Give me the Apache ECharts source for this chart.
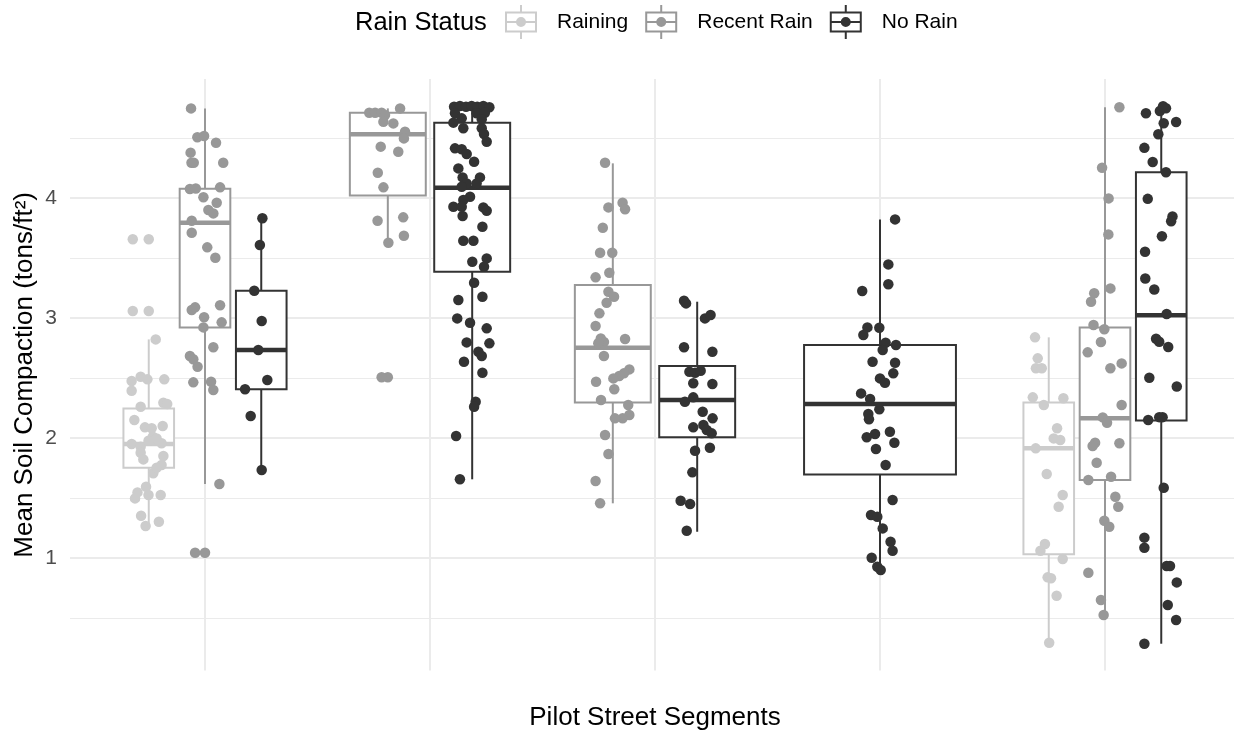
<!DOCTYPE html>
<html><head><meta charset="utf-8">
<script src="https://cdn.jsdelivr.net/npm/echarts@6/dist/echarts.min.js"></script>
<style>html,body{margin:0;padding:0;background:#fff}#chart{width:1234px;height:734px}</style>
</head><body><div id="chart"></div>
<script>
// ---------- data ----------
const segmentPositions = [1, 2, 3, 4, 5];
const statuses = ['Raining', 'Recent Rain', 'No Rain'];
const yTickValues = [1, 2, 3, 4];
const yMinorValues = [0.5, 1.5, 2.5, 3.5, 4.5];

// box stats per segment: [lower whisker, Q1, median, Q3, upper whisker]
const rainingBox = [[1.267, 1.753, 1.950, 2.247, 2.822], null, null, null, [0.294, 1.031, 1.914, 2.297, 2.839]];
const recentBox = [[1.617, 2.922, 3.794, 4.078, 4.747], [3.622, 4.022, 4.531, 4.711, 4.747], [1.456, 2.297, 2.753, 3.275, 4.289], null, [0.525, 1.650, 2.164, 2.922, 4.756]];
const noRainBox = [[1.733, 2.406, 2.733, 3.228, 3.831], [1.656, 3.386, 4.086, 4.628, 4.767], [1.219, 2.006, 2.317, 2.600, 3.136], [0.900, 1.697, 2.283, 2.775, 3.822], [0.286, 2.147, 3.024, 4.215, 4.748]];

// boxplot outliers per segment
const rainingOut = [[3.656, 3.058], [], [], [], []];
const recentOut = [[1.044], [2.506], [], [], []];
const noRainOut = [[], [], [], [], []];

// jittered observations: [x position on segment axis, mean compaction]
const rainingPts = [
 [0.679,3.656],[0.679,3.058],[0.781,2.822],[0.674,2.475],[0.714,2.511],[0.744,2.489],[0.819,2.489],[0.674,2.394],
 [0.714,2.261],[0.815,2.294],[0.832,2.283],[0.686,2.150],[0.733,2.089],[0.763,2.081],[0.812,2.100],[0.768,2.011],
 [0.674,1.950],[0.714,1.928],[0.749,1.978],[0.785,1.997],[0.807,1.956],[0.714,1.878],[0.726,1.822],[0.815,1.850],
 [0.807,1.775],[0.770,1.706],[0.785,1.753],[0.738,1.594],[0.700,1.547],[0.689,1.497],[0.749,1.525],[0.803,1.525],
 [0.716,1.353],[0.736,1.267],[0.795,1.303],
 [4.689,2.839],[4.701,2.664],[4.693,2.581],[4.719,2.581],[4.679,2.339],[4.728,2.275],[4.815,2.331],[4.787,2.081],
 [4.772,1.997],[4.801,1.983],[4.692,1.914],[4.741,1.700],[4.812,1.525],[4.794,1.428],[4.733,1.117],[4.713,1.061],
 [4.812,0.992],[4.745,0.839],[4.760,0.831],[4.785,0.686],[4.752,0.294]
];
const recentPts = [
 [0.938,4.747],[0.966,4.506],[0.996,4.517],[1.049,4.461],[0.936,4.378],[0.940,4.294],[0.950,4.294],[1.081,4.294],
 [0.933,4.075],[0.959,4.080],[1.067,4.089],[0.993,4.006],[1.052,3.961],[1.015,3.900],[1.037,3.872],[0.941,3.811],
 [0.941,3.711],[1.010,3.589],[1.046,3.503],[0.941,3.067],[0.956,3.089],[1.067,3.106],[0.996,3.006],[1.074,2.964],
 [0.993,2.922],[1.037,2.756],[0.933,2.683],[0.948,2.656],[0.967,2.594],[0.948,2.464],[1.027,2.469],[1.037,2.400],
 [1.064,1.617],[0.956,1.044],
 [1.730,4.711],[1.756,4.711],[1.785,4.711],[1.800,4.692],[1.867,4.747],[1.793,4.636],[1.837,4.622],[1.889,4.553],
 [1.884,4.497],[1.781,4.428],[1.859,4.386],[1.768,4.211],[1.793,4.089],[1.767,3.811],[1.881,3.839],[1.884,3.686],
 [1.815,3.628],[1.785,2.506],
 [2.778,4.294],[2.856,3.961],[2.867,3.906],[2.793,3.922],[2.768,3.753],[2.756,3.544],[2.810,3.544],[2.797,3.378],
 [2.736,3.339],[2.793,3.219],[2.818,3.178],[2.785,3.128],[2.753,3.039],[2.736,2.933],[2.759,2.830],[2.773,2.800],
 [2.748,2.790],[2.867,2.825],[2.773,2.683],[2.886,2.572],[2.862,2.539],[2.841,2.517],[2.815,2.497],[2.738,2.469],
 [2.819,2.406],[2.760,2.317],[2.881,2.275],[2.886,2.192],[2.856,2.164],[2.822,2.164],[2.778,2.025],[2.793,1.867],
 [2.736,1.642],[2.756,1.456],
 [5.064,4.756],[4.987,4.253],[5.016,3.997],[5.015,3.697],[5.024,3.247],[4.952,3.206],[4.938,3.136],[4.949,2.942],
 [4.997,2.906],[4.982,2.800],[4.923,2.714],[5.074,2.622],[5.024,2.581],[5.074,2.275],[4.990,2.172],[5.009,2.128],
 [4.956,1.961],[4.945,1.933],[5.064,1.956],[4.963,1.794],[4.926,1.650],[5.027,1.678],[5.046,1.511],[5.059,1.428],
 [4.997,1.311],[5.019,1.261],[4.926,0.878],[4.982,0.650],[4.994,0.525]
];
const noRainPts = [
 [1.255,3.831],[1.244,3.608],[1.219,3.228],[1.252,2.975],[1.237,2.733],[1.277,2.483],[1.178,2.406],[1.203,2.183],[1.252,1.733],
 [2.107,4.761],[2.133,4.767],[2.160,4.761],[2.185,4.767],[2.210,4.761],[2.237,4.767],[2.264,4.756],[2.111,4.706],
 [2.207,4.706],[2.244,4.711],[2.141,4.664],[2.230,4.656],[2.104,4.628],[2.148,4.581],[2.230,4.581],[2.240,4.533],
 [2.252,4.469],[2.111,4.414],[2.141,4.406],[2.163,4.367],[2.196,4.303],[2.126,4.247],[2.145,4.172],[2.222,4.172],
 [2.163,4.122],[2.141,4.094],[2.207,4.122],[2.178,4.011],[2.148,3.983],[2.104,3.928],[2.141,3.928],[2.237,3.922],
 [2.252,3.894],[2.145,3.850],[2.233,3.761],[2.148,3.644],[2.193,3.644],[2.188,3.469],[2.252,3.497],[2.240,3.428],
 [2.196,3.294],[2.233,3.178],[2.126,3.150],[2.121,2.997],[2.178,2.961],[2.252,2.914],[2.163,2.797],[2.264,2.789],
 [2.215,2.719],[2.230,2.683],[2.151,2.636],[2.233,2.544],[2.203,2.303],[2.196,2.261],[2.116,2.017],[2.133,1.656],
 [3.129,3.144],[3.138,3.122],[3.222,2.997],[3.247,3.025],[3.129,2.756],[3.255,2.719],[3.153,2.553],[3.178,2.544],
 [3.203,2.561],[3.170,2.456],[3.255,2.450],[3.170,2.339],[3.133,2.303],[3.212,2.219],[3.256,2.164],[3.170,2.089],
 [3.215,2.108],[3.230,2.067],[3.252,2.039],[3.178,1.894],[3.244,1.919],[3.166,1.714],[3.114,1.478],[3.156,1.450],[3.141,1.228],
 [4.067,3.822],[4.037,3.447],[4.037,3.281],[3.921,3.225],[3.944,2.922],[3.926,2.858],[3.997,2.919],[4.025,2.794],
 [4.012,2.733],[4.071,2.775],[3.967,2.636],[4.067,2.628],[4.059,2.539],[4.000,2.497],[4.022,2.461],[3.916,2.372],
 [3.956,2.325],[3.997,2.239],[3.948,2.200],[3.951,2.156],[3.941,2.006],[3.978,2.033],[4.044,2.053],[4.064,1.961],
 [3.982,1.908],[4.025,1.775],[4.056,1.483],[3.960,1.358],[3.988,1.344],[4.012,1.247],[4.047,1.136],[4.056,1.061],
 [3.963,1.003],[3.988,0.928],[4.003,0.900],
 [5.182,4.707],[5.244,4.725],[5.271,4.748],[5.258,4.765],[5.261,4.623],[5.316,4.633],[5.237,4.531],[5.175,4.418],
 [5.212,4.300],[5.271,4.215],[5.190,3.993],[5.300,3.847],[5.294,3.807],[5.253,3.681],[5.178,3.552],[5.179,3.330],
 [5.219,3.238],[5.274,3.034],[5.227,2.827],[5.241,2.803],[5.281,2.758],[5.197,2.503],[5.319,2.429],[5.192,2.150],
 [5.241,2.174],[5.256,2.174],[5.261,1.585],[5.175,1.170],[5.175,1.085],[5.274,0.933],[5.289,0.933],[5.319,0.797],
 [5.279,0.609],[5.316,0.483],[5.175,0.286]
];

// ---------- styling / layout ----------
const statusColors = {'Raining': '#CCCCCC', 'Recent Rain': '#989898', 'No Rain': '#333333'};
const FONT = '"Liberation Sans", Arial, sans-serif';
const boxStats = {'Raining': rainingBox, 'Recent Rain': recentBox, 'No Rain': noRainBox};
const outliers = {'Raining': rainingOut, 'Recent Rain': recentOut, 'No Rain': noRainOut};
const points = {'Raining': rainingPts, 'Recent Rain': recentPts, 'No Rain': noRainPts};

// dodge like ggplot: width 0.75 shared among groups present in a segment, boxes 90% of slot
const dodge = {};
statuses.forEach(s => dodge[s] = []);
segmentPositions.forEach((pos, i) => {
  const present = statuses.filter(s => boxStats[s][i]);
  const slot = 0.75 / present.length;
  present.forEach((s, j) => { dodge[s][i] = [pos - 0.375 + slot * (j + 0.5), slot * 0.9]; });
});

function renderBox(params, api) {
  const x = api.value(0), half = api.value(6) / 2;
  const lo = api.value(1), q1 = api.value(2), med = api.value(3), q3 = api.value(4), hi = api.value(5);
  const tl = api.coord([x - half, q3]), br = api.coord([x + half, q1]);
  const mL = api.coord([x - half, med]), mR = api.coord([x + half, med]);
  const pHi = api.coord([x, hi]), pQ3 = api.coord([x, q3]), pQ1 = api.coord([x, q1]), pLo = api.coord([x, lo]);
  const c = api.visual('color');
  return {type: 'group', children: [
    {type: 'line', shape: {x1: pHi[0], y1: pHi[1], x2: pQ3[0], y2: pQ3[1]}, style: {stroke: c, lineWidth: 2}},
    {type: 'line', shape: {x1: pQ1[0], y1: pQ1[1], x2: pLo[0], y2: pLo[1]}, style: {stroke: c, lineWidth: 2}},
    {type: 'rect', shape: {x: tl[0], y: tl[1], width: br[0] - tl[0], height: br[1] - tl[1]}, style: {fill: '#ffffff', stroke: c, lineWidth: 2}},
    {type: 'line', shape: {x1: mL[0], y1: mL[1], x2: mR[0], y2: mR[1]}, style: {stroke: c, lineWidth: 4.5}}
  ]};
}

const series = [];
statuses.forEach(s => {
  const data = [];
  boxStats[s].forEach((b, i) => { if (b) data.push([dodge[s][i][0], ...b, dodge[s][i][1]]); });
  series.push({
    name: s, type: 'custom', renderItem: renderBox, data: data,
    encode: {x: 0, y: [1, 2, 3, 4, 5]}, itemStyle: {color: statusColors[s]}, z: 2, silent: true
  });
});
statuses.forEach(s => {
  const data = [];
  outliers[s].forEach((arr, i) => arr.forEach(v => data.push([dodge[s][i][0], v])));
  points[s].forEach(p => data.push(p));
  series.push({
    name: s, type: 'scatter', data: data, symbol: 'circle', symbolSize: 10.5,
    itemStyle: {color: statusColors[s], opacity: 1}, z: 3, silent: true
  });
});

// legend key glyph (box + whiskers + median + point), 32 x 34
const keyIcon = 'path://M0,6.4L32,6.4L32,27.6L0,27.6Z M2,8.4L2,25.6L30,25.6L30,8.4Z M15,0L17,0L17,6.4L15,6.4Z M15,27.6L17,27.6L17,34L15,34Z M2,16L30,16L30,18L2,18Z M11,17A5,5,0,1,1,21,17A5,5,0,1,1,11,17Z';

const yMin = 0.062, yMax = 4.991;
const option = {
  animation: false,
  backgroundColor: '#ffffff',
  textStyle: {fontFamily: FONT},
  title: {text: 'Rain Status', left: 355, top: 10, padding: 0,
    textStyle: {fontSize: 25.5, fontWeight: 'normal', color: '#000000', fontFamily: FONT}},
  legend: {
    left: 505, top: 5, padding: 0, orient: 'horizontal', itemWidth: 32, itemHeight: 34, itemGap: 17,
    selectedMode: false,
    itemStyle: {borderWidth: 0},
    textStyle: {fontSize: 21, color: '#000000', fontFamily: FONT, padding: [0, 0, 0, 15]},
    data: statuses.map(s => ({name: s, icon: keyIcon, itemStyle: {color: statusColors[s], borderWidth: 0}}))
  },
  grid: {left: 70, top: 79.1, width: 1170, height: 591.5, containLabel: false, outerBoundsMode: 'none'},
  xAxis: {
    type: 'value', min: 0.4, max: 5.6,
    name: 'Pilot Street Segments', nameLocation: 'middle', nameGap: 34, nameMoveOverlap: false,
    nameTextStyle: {fontSize: 26, color: '#000000', fontFamily: FONT},
    axisLine: {show: false}, axisTick: {show: false, customValues: segmentPositions},
    axisLabel: {show: false, customValues: segmentPositions},
    splitLine: {show: true, lineStyle: {color: '#EBEBEB', width: 2}}
  },
  yAxis: [{
    type: 'value', min: yMin, max: yMax,
    name: 'Mean Soil Compaction (tons/ft\u00B2)', nameLocation: 'middle', nameGap: 32, nameMoveOverlap: false,
    nameTextStyle: {fontSize: 26, color: '#000000', fontFamily: FONT},
    axisLine: {show: false}, axisTick: {show: false, customValues: yTickValues},
    axisLabel: {show: true, customValues: yTickValues, fontSize: 21, color: '#4D4D4D', margin: 13, fontFamily: FONT},
    splitLine: {show: true, lineStyle: {color: '#EBEBEB', width: 2}}
  }, {
    type: 'value', min: yMin, max: yMax, position: 'left',
    axisLine: {show: false}, axisTick: {show: false, customValues: yMinorValues},
    axisLabel: {show: false, customValues: yMinorValues},
    splitLine: {show: true, lineStyle: {color: '#EBEBEB', width: 1.2}}
  }],
  series: series
};
const chart = echarts.init(document.getElementById('chart'), null, {renderer: 'canvas'});
chart.setOption(option);
</script>
</body></html>
